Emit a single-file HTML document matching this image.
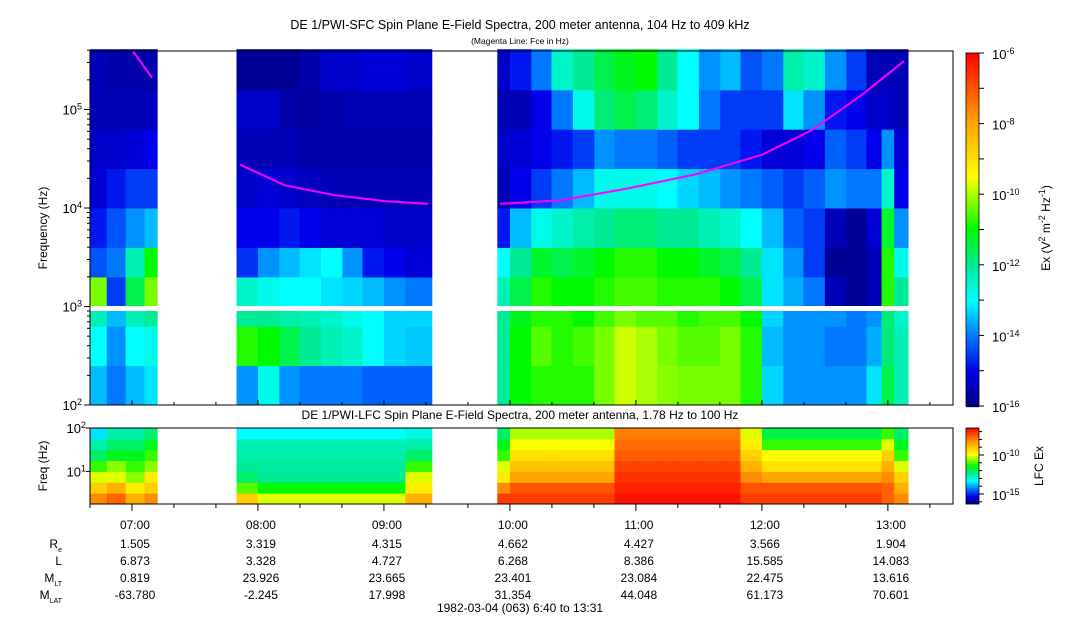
<!DOCTYPE html>
<html><head><meta charset="utf-8"><style>
html,body{margin:0;padding:0;background:#fff;}
svg{display:block;font-family:"Liberation Sans",sans-serif;}
</style></head><body>
<svg id="chart" width="1083" height="620" viewBox="0 0 1083 620" xmlns="http://www.w3.org/2000/svg">
<text x="520" y="29" font-size="12.5" text-anchor="middle">DE 1/PWI-SFC  Spin Plane E-Field Spectra, 200 meter antenna, 104 Hz to 409 kHz</text>
<text x="520" y="44" font-size="8.5" text-anchor="middle">(Magenta Line: Fce in Hz)</text>
<text x="520" y="419" font-size="12" text-anchor="middle">DE 1/PWI-LFC  Spin Plane E-Field Spectra, 200 meter antenna, 1.78 Hz to 100 Hz</text>
<text transform="translate(47,228) rotate(-90)" font-size="12" text-anchor="middle">Frequency (Hz)</text>
<text transform="translate(47,466) rotate(-90)" font-size="12" text-anchor="middle">Freq (Hz)</text>
<g id="sfc"></g>
<g id="lfc"></g>
<g id="axes"></g>
<g id="cbars"></g>
<text transform="translate(1050,228) rotate(-90)" font-size="12" text-anchor="middle">Ex (V<tspan baseline-shift="super" font-size="9">2</tspan> m<tspan baseline-shift="super" font-size="9">-2</tspan> Hz<tspan baseline-shift="super" font-size="9">-1</tspan>)</text>
<text transform="translate(1043,466) rotate(-90)" font-size="12" text-anchor="middle">LFC Ex</text>
<g id="eph"></g>
<text x="520" y="612" font-size="12" text-anchor="middle">1982-03-04 (063) 6:40 to 13:31</text>
</svg>
<script>
const colEdges=[6.667,6.8,6.95,7.1,7.2,7.83,8.0,8.17,8.33,8.5,8.67,8.83,9.0,9.17,9.38,9.9,10.0,10.17,10.33,10.5,10.67,10.83,11.0,11.17,11.33,11.5,11.67,11.83,12.0,12.17,12.33,12.5,12.67,12.83,12.95,13.05,13.16];
const sfcRowEdges=[2.0,2.4,2.8,3.0,3.3,3.6,4.0,4.4,4.8,5.2,5.612];
const sfcRow0=[-13.5,-14,-13.5,-13.2,null,-13.8,-12.8,-13.8,-14,-14,-14,-14.2,-14.2,-14.2,null,-12,-11,-10.8,-10.8,-10.8,-10.3,-9.8,-10,-10.2,-10.3,-10.3,-10.3,-10.8,-13.3,-13.8,-13.8,-13.8,-13.8,-13.2,-11.5,-12.3];
const sfcRow1=[-13,-13.8,-13,-12.8,null,-10.8,-11,-11.5,-12,-12.3,-12.5,-13,-13.3,-13.4,null,-12,-11,-10.5,-10.8,-10.6,-10.3,-9.8,-10,-10.3,-10.5,-10.5,-10.3,-10.8,-13.5,-13.8,-13.8,-14,-14,-13.6,-11.8,-12.3];
const sfcRow2=[-12.3,-13.5,-12.3,-12,null,-12,-12,-12.2,-12.3,-12.5,-12.8,-13,-13.3,-13.3,null,-12,-11.2,-10.8,-10.8,-11,-10.6,-10.3,-10.5,-10.5,-10.8,-10.6,-10.6,-11,-13.3,-13.8,-13.8,-13.8,-14,-13.8,-11.8,-12.5];
const sfcRow3=[-10.3,-14.5,-11.5,-10.3,null,-12.5,-12.8,-13,-13,-13.2,-13.3,-13.5,-13.8,-14,null,-12.3,-11.5,-10.8,-11,-11,-10.8,-10.6,-10.6,-10.8,-10.8,-10.8,-11,-11.5,-13.2,-13.6,-14,-15.5,-15.8,-15.5,-10.8,-12];
const sfcRow4=[-14.3,-14,-12.3,-11,null,-14.6,-13.8,-13.5,-13.2,-13,-13.8,-14.8,-15,-15.2,null,-13,-12,-11.3,-11.5,-11.3,-11,-10.8,-10.8,-11,-11,-11.3,-11.5,-12,-13.2,-13.8,-14.5,-15.8,-15.8,-15.5,-10.8,-12.8];
const sfcRow5=[-14.8,-14.3,-13.8,-13.5,null,-15,-15,-14.8,-15,-15.2,-15.2,-15.2,-15.3,-15.3,null,-14.8,-13.5,-12.8,-12.5,-12.2,-12,-11.8,-11.8,-12,-12,-12.3,-12.5,-13,-13.5,-14.2,-14.5,-15.5,-15.8,-15.2,-11.3,-13.8];
const sfcRow6=[-15.2,-14.8,-14.5,-14.5,null,-15.3,-15.2,-15.3,-15.4,-15.5,-15.5,-15.5,-15.5,-15.5,null,-15.5,-15,-14.5,-14,-13.5,-12.8,-12.8,-12.8,-13,-13.3,-13.5,-13.8,-14,-14.2,-14.5,-14.2,-13.8,-14,-14,-12.5,-15];
const sfcRow7=[-15.3,-15.3,-15.2,-15,null,-15.5,-15.5,-15.5,-15.6,-15.6,-15.6,-15.6,-15.6,-15.6,null,-15.3,-15.2,-15,-14.8,-14.5,-13.8,-14,-14,-14.2,-14.5,-14.5,-14.5,-14.8,-15.2,-15.2,-15,-14.2,-14.5,-15,-13.8,-15.2];
const sfcRow8=[-15.5,-15.5,-15.5,-15.4,null,-15.3,-15.3,-15.6,-15.7,-15.6,-15.5,-15.5,-15.5,-15.5,null,-15.5,-15.5,-15,-14,-12.8,-11.8,-11.5,-11.8,-12.5,-13,-14,-14.5,-14.5,-14.5,-13.2,-13.8,-14.8,-15,-15.3,-15.3,-15.5];
const sfcRow9=[-15.5,-15.6,-15.6,-15.6,null,-15.8,-15.8,-15.8,-15.6,-15.3,-15.3,-15.2,-15.2,-15.3,null,-15.3,-14.8,-14,-12.5,-12,-11.5,-11.2,-11,-12,-13,-13.8,-13.5,-14.3,-14,-12.2,-12.5,-13.8,-14.5,-15.5,-15.5,-15.5];
const lfcRowEdges=[0.25,0.5,0.75,1.0,1.25,1.5,1.75,2.0];
const lfcRow0=[-8,-7.5,-8.5,-8,null,-9,-10,-10,-10,-10,-10,-10,-10,-8.5,null,-7,-7,-7,-7,-7,-7,-6.5,-6.5,-6.5,-6.5,-6.5,-6.5,-7,-7,-7,-7,-7,-7,-7,-7.5,-8];
const lfcRow1=[-9,-8.5,-9.5,-9,null,-10.8,-11.3,-11.3,-11.3,-11.3,-11.3,-11.3,-11.3,-9.5,null,-8,-7.3,-7.3,-7.3,-7.3,-7.3,-6.7,-6.7,-6.7,-6.7,-6.7,-6.7,-7.3,-7.3,-7.3,-7.3,-7.3,-7.3,-7.3,-7.5,-8.5];
const lfcRow2=[-10,-10,-10.5,-9.5,null,-12,-12.3,-12.3,-12.3,-12.3,-12.3,-12.3,-12.3,-10,null,-9.5,-8.3,-8.3,-8.3,-8.3,-8.3,-6.9,-6.9,-6.9,-6.9,-6.9,-6.9,-8,-8.3,-8.3,-8.3,-8.3,-8.3,-8.3,-8,-9];
const lfcRow3=[-11,-10.5,-11,-10.5,null,-12.3,-12.4,-12.4,-12.4,-12.4,-12.4,-12.4,-12.4,-11,null,-10,-8.8,-8.8,-8.8,-8.8,-8.8,-7.1,-7.1,-7.1,-7.1,-7.1,-7.1,-8.5,-9.3,-9.3,-9.3,-9.3,-9.3,-9.3,-8.5,-10];
const lfcRow4=[-12,-11.5,-11.5,-11,null,-12.5,-12.5,-12.5,-12.5,-12.5,-12.5,-12.5,-12.5,-12,null,-11,-9.3,-9.3,-9.3,-9.3,-9.3,-7.4,-7.4,-7.4,-7.4,-7.4,-7.4,-9,-9.8,-9.8,-9.8,-9.8,-9.8,-9.8,-9,-11];
const lfcRow5=[-12.5,-12,-12,-11.5,null,-12.6,-12.6,-12.6,-12.6,-12.6,-12.6,-12.6,-12.6,-12.5,null,-11.5,-9.8,-9.8,-9.8,-9.8,-9.8,-7.6,-7.6,-7.6,-7.6,-7.6,-7.6,-9.5,-11,-11,-11,-11,-11,-11,-10,-11.5];
const lfcRow6=[-13.5,-12.5,-12.5,-12,null,-13.3,-13.3,-13.3,-13.3,-13.3,-13.3,-13.3,-13.3,-13,null,-12,-10.3,-10.3,-10.3,-10.3,-10.3,-7.8,-7.8,-7.8,-7.8,-7.8,-7.8,-10,-11.8,-11.8,-11.8,-11.8,-11.8,-11.8,-11,-12];
const fceTimes1=[7.01,7.16];
const fceValues1=[389000,210000];
const fceTimes2=[7.857,8.214,8.61,9.008,9.35];
const fceValues2=[27500,17000,13500,11750,11000];
const fceTimes3=[9.921,10.413,10.937,11.468,12.0,12.397,12.794,13.127];
const fceValues3=[11000,12000,15800,21900,34700,61700,141000,309000];
const timeTicks=[7,8,9,10,11,12,13];
const timeLabels=["07:00","08:00","09:00","10:00","11:00","12:00","13:00"];
const ephRe=["1.505","3.319","4.315","4.662","4.427","3.566","1.904"];
const ephL=["6.873","3.328","4.727","6.268","8.386","15.585","14.083"];
const ephMLT=["0.819","23.926","23.665","23.401","23.084","22.475","13.616"];
const ephMLAT=["-63.780","-2.245","17.998","31.354","44.048","61.173","70.601"];

const NS='http://www.w3.org/2000/svg';
const X0=90,X1=953,T0=6.667,T1=13.517;
const xs=t=>X0+(t-T0)/(T1-T0)*(X1-X0);
const sfcY=lf=>405-(lf-2)*98.5;
const lfcY=lf=>504-(lf-0.25)/1.75*76;
const stops=[[0,[0,0,128]],[0.1,[0,0,235]],[0.2,[0,120,255]],[0.3,[0,255,255]],[0.4,[0,235,150]],[0.5,[0,250,0]],[0.6,[170,255,0]],[0.65,[255,255,0]],[0.8,[255,165,0]],[1,[255,0,0]]];
function cmap(v,lo,hi){let u=Math.max(0,Math.min(1,(v-lo)/(hi-lo)));for(let i=1;i<stops.length;i++){if(u<=stops[i][0]){const a=stops[i-1],b=stops[i];const f=(u-a[0])/(b[0]-a[0]);const c=a[1].map((q,k)=>Math.round(q+(b[1][k]-q)*f));return `rgb(${c[0]},${c[1]},${c[2]})`;}}return 'rgb(255,0,0)';}
function mk(tag,attrs,parent){const e=document.createElementNS(NS,tag);for(const k in attrs)e.setAttribute(k,attrs[k]);parent.appendChild(e);return e;}

const sfcRows=[sfcRow0,sfcRow1,sfcRow2,sfcRow3,sfcRow4,sfcRow5,sfcRow6,sfcRow7,sfcRow8,sfcRow9];
const gS=document.getElementById('sfc');
sfcRows.forEach((row,ri)=>{row.forEach((v,ci)=>{if(v===null)return;
 const x=xs(colEdges[ci]),w=xs(colEdges[ci+1])-x,y=sfcY(sfcRowEdges[ri+1]),h=sfcY(sfcRowEdges[ri])-y;
 const r=mk('rect',{x:x,y:y,width:w+0.5,height:h+0.5,fill:cmap(v,-16,-6)},gS);
 
 });});
const gap=mk('rect',{x:X0,y:306,width:X1-X0,height:5,fill:'#fff'},gS);



const lfcRows=[lfcRow0,lfcRow1,lfcRow2,lfcRow3,lfcRow4,lfcRow5,lfcRow6];
const gL=document.getElementById('lfc');
lfcRows.forEach((row,ri)=>{row.forEach((v,ci)=>{if(v===null)return;
 const x=xs(colEdges[ci]),w=xs(colEdges[ci+1])-x,y=lfcY(lfcRowEdges[ri+1]),h=lfcY(lfcRowEdges[ri])-y;
 const r=mk('rect',{x:x,y:y,width:w+0.5,height:h+0.5,fill:cmap(v,-16.3,-6.3)},gL);
 
 });});

[[fceTimes1,fceValues1],[fceTimes2,fceValues2],[fceTimes3,fceValues3]].forEach(([ts,vs])=>{
 const pts=ts.map((t,i)=>xs(t).toFixed(1)+','+sfcY(Math.log10(vs[i])).toFixed(1)).join(' ');
 const p=mk('polyline',{points:pts,fill:'none',stroke:'#ff00ff','stroke-width':2},gS);
 
 });

const gA=document.getElementById('axes');
const f1=mk('rect',{x:X0,y:51,width:X1-X0,height:354,fill:'none',stroke:'#000','stroke-width':1},gA);


const f2=mk('rect',{x:X0,y:428,width:X1-X0,height:76,fill:'none',stroke:'#000','stroke-width':1},gA);


for(let d=2;d<=5;d++){for(let m=1;m<10;m++){const lf=d+Math.log10(m);if(lf>5.612)break;const y=sfcY(lf);
 mk('line',{x1:X0-(m===1?6:3),x2:X0,y1:y,y2:y,stroke:'#000'},gA);}
 const t=mk('text',{x:X0-8,y:sfcY(d)+5,'font-size':13,'text-anchor':'end'},gA);
 t.innerHTML=`10<tspan baseline-shift="super" font-size="9">${d}</tspan>`;
 
 }
[1,2].forEach(d=>{const t=mk('text',{x:X0-4,y:lfcY(d)+5,'font-size':13,'text-anchor':'end'},gA);
 t.innerHTML=`10<tspan baseline-shift="super" font-size="9">${d}</tspan>`;
 
 
 mk('line',{x1:X0-4,x2:X0,y1:lfcY(d),y2:lfcY(d),stroke:'#000'},gA);});
for(let m=7*60-20;m<=13*60+30;m+=20){const x=xs(m/60);const major=m%60===0;
 mk('line',{x1:x,x2:x,y1:504,y2:504+(major?7:4),stroke:'#000'},gA);
 mk('line',{x1:x,x2:x,y1:405,y2:405-(major?5:3),stroke:'#000'},gA);}

const gE=document.getElementById('eph');
const rowsY=[529,548,565,582,599];
const rowNames=['','R','L','M','M'];
const subs=['','e','','LT','LAT'];
[1,2,3,4].forEach(i=>{const t=mk('text',{x:62,y:rowsY[i],'font-size':12,'text-anchor':'end'},gE);
 t.innerHTML=rowNames[i]+(subs[i]?`<tspan baseline-shift="sub" font-size="7">${subs[i]}</tspan>`:'');
 
 });
[timeLabels,ephRe,ephL,ephMLT,ephMLAT].forEach((arr,ri)=>{arr.forEach((s,i)=>{
 const t=mk('text',{x:xs(timeTicks[i])+3,y:rowsY[ri],'font-size':12,'text-anchor':'middle'},gE);
 t.textContent=s;
 
 });});

const gC=document.getElementById('cbars');
for(let i=0;i<177;i++){const y=53+i*2;const v=-6-10*(i+0.5)/177;
 mk('rect',{x:966,y:y,width:13,height:2.2,fill:cmap(v,-16,-6)},gC);}
const cb1=mk('rect',{x:966,y:53,width:13,height:353,fill:'none',stroke:'#000','stroke-width':0.8},gC);


for(let e=-16;e<=-6;e++){const y=406-(e+16)*35.3;mk('line',{x1:979,x2:984,y1:y,y2:y,stroke:'#000'},gC);
 if(e%2===0){const t=mk('text',{x:992,y:y+6,'font-size':13},gC);t.innerHTML=`10<tspan baseline-shift="super" font-size="9">${e}</tspan>`;
 
 }}
for(let i=0;i<38;i++){const y=428+i*2;const v=-6.3-10*(i+0.5)/38;
 mk('rect',{x:966,y:y,width:13,height:2.2,fill:cmap(v,-16.3,-6.3)},gC);}
const cb2=mk('rect',{x:966,y:428,width:13,height:76,fill:'none',stroke:'#000','stroke-width':0.8},gC);


for(let e=-16;e<=-7;e++){const y=455+(-10-e)*7.8;if(y<428||y>504)continue;mk('line',{x1:979,x2:(e%5===0?984:982),y1:y,y2:y,stroke:'#000'},gC);}
[-10,-15].forEach(e=>{const y=455+(-10-e)*7.8;const t=mk('text',{x:992,y:y+6,'font-size':13},gC);t.innerHTML=`10<tspan baseline-shift="super" font-size="9">${e}</tspan>`;
 
 });
</script>
</body></html>
